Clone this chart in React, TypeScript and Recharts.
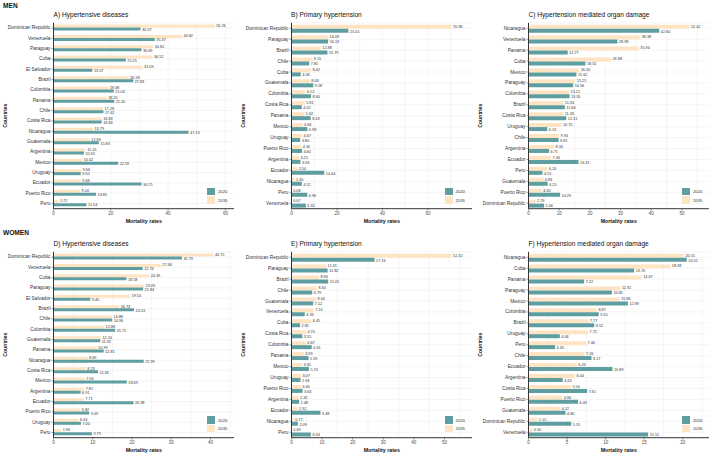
import { Bar, BarChart, CartesianGrid, LabelList, Legend, XAxis, YAxis } from "recharts";

const TEAL = "#5F9EA0";
const PEACH = "#FFE4C4";
const FONT = '"Liberation Sans", Arial, Helvetica, sans-serif';

// A) Men - hypertensive diseases
const menHdCountries = ["Dominican Republic", "Venezuela", "Paraguay", "Cuba", "El Salvador", "Brazil", "Colombia", "Panama", "Chile", "Costa Rica", "Nicaragua", "Guatemala", "Argentina", "Mexico", "Uruguay", "Ecuador", "Puerto Rico", "Peru"];
const menHd2035 = [56.26, 44.82, 34.82, 34.52, 31.09, 26.18, 19.08, 18.55, 17.28, 16.83, 13.79, 12.69, 11.25, 10.02, 9.66, 9.48, 9.24, 1.72];
const menHd2020 = [30.37, 35.37, 30.69, 25.25, 13.57, 27.83, 21.04, 21.2, 17.42, 16.83, 47.13, 15.83, 10.65, 22.59, 9.5, 30.75, 14.85, 11.54];

// B) Men - primary hypertension
const menPhCountries = ["Dominican Republic", "Paraguay", "Brazil", "Chile", "Cuba", "Guatemala", "Colombia", "Costa Rica", "Panama", "Mexico", "Uruguay", "Puerto Rico", "Argentina", "Ecuador", "Nicaragua", "Peru", "Venezuela"];
const menPh2035 = [70.38, 16.09, 12.88, 9.15, 8.62, 8.03, 6.12, 5.81, 5.62, 4.84, 4.67, 4.3, 3.25, 2.5, 1.3, 0.08, 0.07];
const menPh2020 = [25.01, 16.13, 15.79, 7.81, 4.06, 9.58, 8.6, 4.52, 8.43, 6.98, 3.8, 4.6, 3.94, 14.44, 4.52, 6.96, 6.32];

// C) Men - hypertension mediated organ damage
const menOdCountries = ["Nicaragua", "Venezuela", "Panama", "Cuba", "Mexico", "Paraguay", "Colombia", "Brazil", "Costa Rica", "Uruguay", "Chile", "Argentina", "Ecuador", "Peru", "Guatemala", "Puerto Rico", "Dominican Republic"];
const menOd2035 = [52.42, 36.38, 35.94, 26.88, 16.5, 15.25, 13.21, 11.34, 11.33, 10.75, 9.94, 8.34, 7.34, 6.2, 4.83, 4.3, 2.29];
const menOd2020 = [42.6, 28.98, 12.77, 18.55, 15.62, 14.56, 13.35, 11.84, 12.31, 6.13, 9.81, 6.71, 16.31, 4.55, 6.25, 10.29, 5.06];

// D) Women - hypertensive diseases
const womenHdCountries = ["Dominican Republic", "Venezuela", "Cuba", "Paraguay", "El Salvador", "Brazil", "Chile", "Colombia", "Guatemala", "Panama", "Nicaragua", "Costa Rica", "Mexico", "Argentina", "Ecuador", "Puerto Rico", "Uruguay", "Peru"];
const womenHd2035 = [40.75, 27.36, 24.39, 23.09, 19.5, 16.73, 14.88, 12.88, 12.1, 10.99, 8.69, 8.23, 7.94, 7.81, 7.71, 6.82, 6.34, 1.96];
const womenHd2020 = [32.73, 22.74, 18.58, 22.84, 9.4, 20.53, 14.96, 15.71, 11.92, 12.81, 22.99, 11.36, 18.69, 6.91, 20.38, 9.09, 7.0, 9.79];

// E) Women - primary hypertension
const womenPhCountries = ["Dominican Republic", "Paraguay", "Brazil", "Chile", "Guatemala", "Venezuela", "Cuba", "Costa Rica", "Colombia", "Panama", "Mexico", "Uruguay", "Puerto Rico", "Argentina", "Ecuador", "Nicaragua", "Peru"];
const womenPh2035 = [52.32, 11.31, 8.96, 8.3, 8.04, 7.24, 6.45, 4.7, 4.67, 3.99, 3.45, 3.07, 3.03, 2.32, 1.92, 0.72, 0.09];
const womenPh2020 = [27.16, 11.82, 12.01, 6.79, 7.12, 4.33, 2.81, 3.55, 6.61, 5.59, 5.7, 2.94, 3.63, 2.48, 9.48, 2.09, 6.34];

// F) Women - hypertension mediated organ damage
const womenOdCountries = ["Nicaragua", "Cuba", "Panama", "Paraguay", "Mexico", "Colombia", "Brazil", "Uruguay", "Peru", "Chile", "Ecuador", "Argentina", "Costa Rica", "Puerto Rico", "Guatemala", "Dominican Republic", "Venezuela"];
const womenOd2035 = [20.15, 18.38, 14.67, 11.92, 11.83, 8.87, 7.77, 7.72, 7.46, 7.26, 6.26, 6.04, 5.5, 4.36, 4.12, 1.15, 0.5];
const womenOd2020 = [20.52, 13.7, 7.22, 10.81, 12.89, 9.1, 8.52, 4.06, 3.45, 8.17, 10.89, 4.43, 7.61, 6.43, 4.8, 5.55, 15.51];

const ticks20 = [0, 20, 40, 60];
const ticks10 = [0, 10, 20, 30, 40, 50];
const ticks10short = [0, 10, 20, 30, 40];
const ticks5 = [0, 5, 10, 15, 20];

const fmt = (v: unknown) => (typeof v === "number" ? v.toFixed(2) : String(v));

function CountriesLabel(props: any) {
  const vb = props.viewBox ?? { y: 0, height: 0 };
  const cy = vb.y + vb.height / 2;
  return (
    <text
      x={5}
      y={cy}
      transform={`rotate(-90 5 ${cy})`}
      textAnchor="middle"
      dominantBaseline="central"
      fontSize={5.2}
      fontWeight="bold"
      fill="#111"
      fontFamily={FONT}
    >
      Countries
    </text>
  );
}

function CountryTick(props: any) {
  const { x, y, payload } = props;
  return (
    <text x={x} y={y} textAnchor="end" dominantBaseline="central" fontSize={4.8} fill="#333" fontFamily={FONT}>
      {payload.value}
    </text>
  );
}

function renderLegend(props: any) {
  const items = [...(props.payload ?? [])].sort((a: any, b: any) => String(a.value).localeCompare(String(b.value)));
  return (
    <div style={{ fontFamily: FONT, fontSize: 4.2, color: "#333" }}>
      {items.map((it: any) => (
        <div key={it.value} style={{ display: "flex", alignItems: "center", height: 8.7 }}>
          <span style={{ width: 8, height: 7.4, background: it.color, display: "inline-block", marginRight: 3 }} />
          <span>{it.value}</span>
        </div>
      ))}
    </div>
  );
}

type PanelProps = {
  title: string;
  countries: string[];
  v2020: number[];
  v2035: number[];
  ticks: number[];
  max: number;
  left: number;
  top: number;
};

function Panel({ title, countries, v2020, v2035, ticks, max, left, top }: PanelProps) {
  const rows = countries.map((c, i) => ({ country: c, y2020: v2020[i], y2035: v2035[i] }));
  const step = ticks[1] - ticks[0];
  const grid: number[] = [];
  for (let g = 0; g <= max; g += step / 2) grid.push(g);

  return (
    <div style={{ position: "absolute", left, top, width: 237, height: 226 }}>
      <div
        style={{
          position: "absolute",
          left: 53.5,
          top: 11.2,
          fontSize: 6.6,
          lineHeight: "7px",
          fontFamily: FONT,
          color: "#111",
          whiteSpace: "nowrap",
        }}
      >
        {title}
      </div>
      <BarChart
        width={236}
        height={226}
        data={rows}
        layout="vertical"
        margin={{ top: 22.8, right: 2, bottom: 0, left: 0 }}
        barCategoryGap="17%"
        barGap={0}
        style={{ fontFamily: FONT }}
      >
        <CartesianGrid stroke="#ebebeb" strokeWidth={0.5} verticalValues={grid} />
        <XAxis
          type="number"
          domain={[0, max]}
          ticks={ticks}
          height={17.3}
          tickSize={2}
          tickMargin={1}
          tick={{ fontSize: 4.5, fill: "#4d4d4d" }}
          axisLine={{ stroke: "#222", strokeWidth: 0.9 }}
          tickLine={{ stroke: "#333", strokeWidth: 0.5 }}
          label={{ value: "Mortality rates", position: "insideBottom", offset: 3, fontSize: 5.3, fontWeight: "bold", fill: "#111" }}
        />
        <YAxis
          type="category"
          dataKey="country"
          width={53.5}
          interval={0}
          tickSize={2}
          tickMargin={1}
          tick={<CountryTick />}
          axisLine={{ stroke: "#222", strokeWidth: 0.9 }}
          tickLine={{ stroke: "#333", strokeWidth: 0.5 }}
          label={{ content: CountriesLabel }}
        />
        <Legend
          layout="vertical"
          align="center"
          verticalAlign="middle"
          content={renderLegend}
          wrapperStyle={{ left: 207, top: 187, width: 28, height: 18 }}
        />
        <Bar dataKey="y2035" name="2035" fill={PEACH} isAnimationActive={false}>
          <LabelList dataKey="y2035" position="right" offset={1.5} dy={-0.5} fontSize={3.8} fill="#333" formatter={fmt} />
        </Bar>
        <Bar dataKey="y2020" name="2020" fill={TEAL} isAnimationActive={false}>
          <LabelList dataKey="y2020" position="right" offset={1.5} dy={0.5} fontSize={3.8} fill="#333" formatter={fmt} />
        </Bar>
      </BarChart>
    </div>
  );
}

const sectionStyle = {
  position: "absolute" as const,
  left: 3,
  fontSize: 6.6,
  fontWeight: "bold" as const,
  fontFamily: FONT,
  lineHeight: "7px",
  color: "#111",
};

export default function App() {
  return (
    <div style={{ position: "absolute", left: 0, top: 0, width: 712, height: 453, background: "#fff", overflow: "hidden" }}>
      <div style={{ ...sectionStyle, top: 1.5 }}>MEN</div>
      <div style={{ ...sectionStyle, top: 229 }}>WOMEN</div>
      <Panel title="A) Hypertensive diseases" countries={menHdCountries} v2020={menHd2020} v2035={menHd2035} ticks={ticks20} max={63} left={0} top={0} />
      <Panel title="B) Primary hypertension" countries={menPhCountries} v2020={menPh2020} v2035={menPh2035} ticks={ticks20} max={79.4} left={237.5} top={0} />
      <Panel title="C) Hypertension mediated organ damage" countries={menOdCountries} v2020={menOd2020} v2035={menOd2035} ticks={ticks10} max={58.8} left={475} top={0} />
      <Panel title="D) Hypertensive diseases" countries={womenHdCountries} v2020={womenHd2020} v2035={womenHd2035} ticks={ticks10short} max={46} left={0} top={228.7} />
      <Panel title="E) Primary hypertension" countries={womenPhCountries} v2020={womenPh2020} v2035={womenPh2035} ticks={ticks10} max={59} left={237.5} top={228.7} />
      <Panel title="F) Hypertension mediated organ damage" countries={womenOdCountries} v2020={womenOd2020} v2035={womenOd2035} ticks={ticks5} max={23.4} left={475} top={228.7} />
    </div>
  );
}
